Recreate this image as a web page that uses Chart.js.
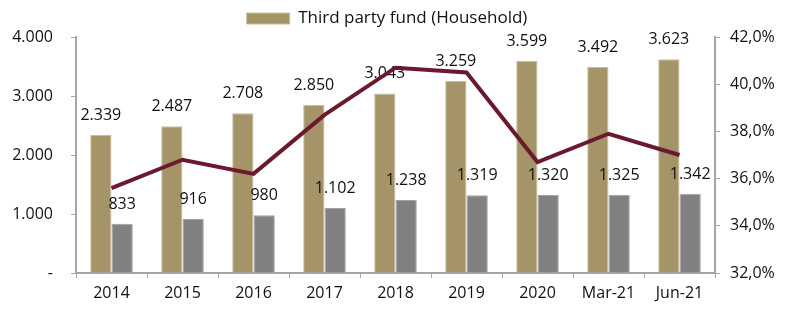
<!DOCTYPE html>
<html>
<head>
<meta charset="utf-8">
<script src="https://cdn.jsdelivr.net/npm/chart.js@4/dist/chart.umd.min.js"></script>
<style>
    html, body { margin: 0; padding: 0; background: #fff; }
    #wrap { width: 800px; height: 324px; }
</style>
</head>
<body>
<div id="wrap"><canvas id="chart" width="800" height="324"></canvas></div>
<script>
const categories = ['2014', '2015', '2016', '2017', '2018', '2019', '2020', 'Mar-21', 'Jun-21'];
const fundTotal = [2339, 2487, 2708, 2850, 3043, 3259, 3599, 3492, 3623];
const fundHousehold = [833, 916, 980, 1102, 1238, 1319, 1320, 1325, 1342];
const shareLine = [35.6, 36.8, 36.2, 38.7, 40.7, 40.5, 36.7, 37.9, 37.0];

const FONT = '"Open Sans"';
const AXIS_COLOR = '#a6a6a6';

function fmtThousand(v) {
    if (v === 0) return '-';
    return v.toLocaleString('de-DE');
}

// value labels go on once both bar sets are drawn, before the line
const barLabels = {
    id: 'barLabels',
    afterDatasetDraw(chart, args) {
        if (args.index !== 1) return;
        const ctx = chart.ctx;
        ctx.save();
        ctx.font = '16px ' + FONT;
        ctx.fillStyle = '#111';
        ctx.textAlign = 'center';
        ctx.textBaseline = 'alphabetic';
        [1, 2].forEach(di => {
            const ds = chart.data.datasets[di];
            chart.getDatasetMeta(di).data.forEach((bar, i) => {
                ctx.fillText(fmtThousand(ds.data[i]), bar.x, bar.y - 15);
            });
        });
        ctx.restore();
    }
};

new Chart(document.getElementById('chart'), {
    type: 'bar',
    data: {
        labels: categories,
        datasets: [
            {
                type: 'line',
                label: 'Share',
                data: shareLine,
                yAxisID: 'y1',
                borderColor: '#6b1a2e',
                borderWidth: 4,
                pointRadius: 0,
                tension: 0,
                order: 0
            },
            {
                label: 'Third party fund (Household)',
                data: fundTotal,
                yAxisID: 'y',
                backgroundColor: '#a59468',
                borderColor: '#c9bd9c',
                borderWidth: 1,
                order: 1
            },
            {
                label: 'Household',
                data: fundHousehold,
                yAxisID: 'y',
                backgroundColor: '#808080',
                borderColor: '#a3a3a3',
                borderWidth: 1,
                order: 2
            }
        ]
    },
    options: {
        responsive: false,
        animation: false,
        devicePixelRatio: 1,
        layout: { padding: { left: 0, right: 26, top: 0, bottom: 0 } },
        datasets: {
            bar: { categoryPercentage: 0.6, barPercentage: 1.0 }
        },
        plugins: {
            tooltip: { enabled: false },
            legend: {
                display: true,
                position: 'top',
                labels: {
                    filter: item => item.text === 'Third party fund (Household)',
                    boxWidth: 43,
                    boxHeight: 11,
                    padding: 10,
                    color: '#111',
                    font: { family: FONT, size: 17 }
                }
            }
        },
        scales: {
            x: {
                grid: {
                    display: true,
                    drawOnChartArea: false,
                    drawTicks: true,
                    tickLength: 5,
                    color: AXIS_COLOR
                },
                border: { display: true, color: AXIS_COLOR, width: 2 },
                ticks: {
                    color: '#111',
                    font: { family: FONT, size: 16 },
                    padding: 6,
                    maxRotation: 0
                },
                afterFit(scale) { scale.height = 51; }
            },
            y: {
                position: 'left',
                min: 0,
                max: 4000,
                grid: {
                    display: true,
                    drawOnChartArea: false,
                    drawTicks: true,
                    tickLength: 5,
                    color: AXIS_COLOR
                },
                border: { display: true, color: AXIS_COLOR, width: 2 },
                ticks: {
                    stepSize: 1000,
                    color: '#111',
                    font: { family: FONT, size: 16 },
                    padding: 18,
                    callback: v => fmtThousand(v)
                },
                afterFit(scale) { scale.width = 76; }
            },
            y1: {
                position: 'right',
                min: 32,
                max: 42,
                grid: {
                    display: true,
                    drawOnChartArea: false,
                    drawTicks: true,
                    tickLength: 5,
                    color: AXIS_COLOR
                },
                border: { display: true, color: AXIS_COLOR, width: 2 },
                ticks: {
                    stepSize: 2,
                    color: '#111',
                    font: { family: FONT, size: 16 },
                    padding: 10,
                    callback: v => v.toFixed(1).replace('.', ',') + '%'
                },
                afterFit(scale) { scale.width = 59; }
            }
        }
    },
    plugins: [barLabels]
});
</script>
</body>
</html>
